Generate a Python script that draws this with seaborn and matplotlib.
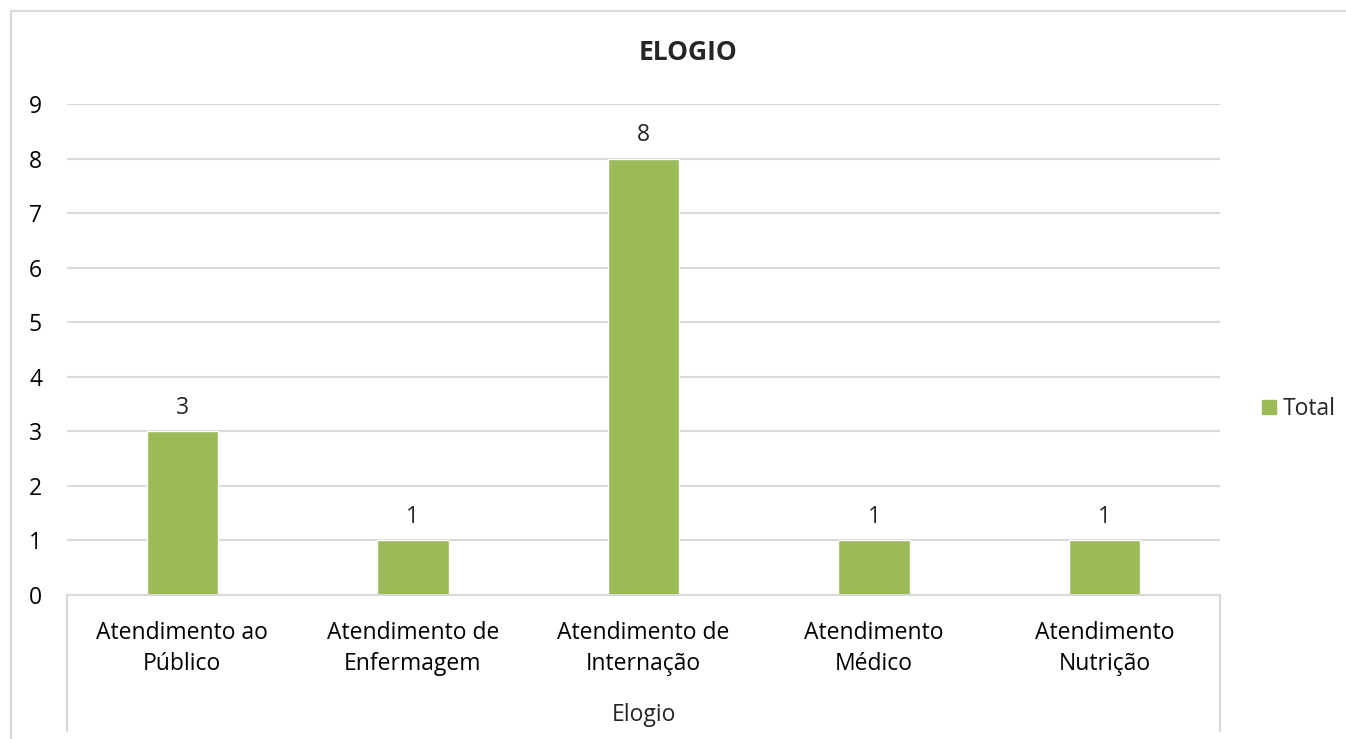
import matplotlib
matplotlib.use("Agg")
import matplotlib.pyplot as plt
import matplotlib.patches as mpatches
import seaborn as sns

# dados do gráfico
categorias = [
    "Atendimento ao\nPúblico",
    "Atendimento de\nEnfermagem",
    "Atendimento de\nInternação",
    "Atendimento\nMédico",
    "Atendimento\nNutrição",
]
valores = [3, 1, 8, 1, 1]
titulo = "ELOGIO"
grupo = "Elogio"
serie = "Total"

verde = "#9BBB59"
cinza = "#D9D9D9"
fs = 16.5

sns.set_theme(style="white")
plt.rcParams['font.family'] = ['Open Sans', 'DejaVu Sans']

fig = plt.figure(figsize=(13.46, 7.39), dpi=100)
ax = fig.add_axes([67 / 1346, 1 - 595 / 739, (1220 - 67) / 1346, (595 - 104) / 739])

sns.barplot(x=categorias, y=valores, color=verde, width=0.31, ax=ax, saturation=1)

ax.set_ylim(0, 9)
ax.set_xlim(-0.5, len(categorias) - 0.5)
ax.set_yticks(range(0, 10))
ax.yaxis.grid(True, color=cinza, linewidth=1.5)
ax.set_axisbelow(True)
for s in ["left", "right", "top"]:
    ax.spines[s].set_visible(False)
ax.spines["bottom"].set_color(cinza)
ax.spines["bottom"].set_linewidth(1.5)

ax.tick_params(axis="both", length=0, labelsize=fs, colors="#000000")
ax.tick_params(axis="y", pad=18)
ax.tick_params(axis="x", pad=19)
for lbl in ax.get_xticklabels():
    lbl.set_linespacing(1.36)
ax.set_xlabel("")
ax.set_ylabel("")

for c in ax.containers:
    ax.bar_label(c, labels=[str(v) for v in valores], padding=8, fontsize=fs)

# caixa do eixo de categorias
for xa in [0, 1]:
    ax.plot([xa, xa], [0, -0.277], transform=ax.transAxes, color=cinza,
            linewidth=1.5, clip_on=False)
ax.text(0.5, -0.245, grupo, transform=ax.transAxes, ha="center", va="center",
        fontsize=fs)

fig.text(688 / 1346, 1 - 52 / 739, titulo, ha="center", va="center",
         fontsize=19, fontweight="bold")

handle = mpatches.Patch(color=verde, label=serie)
fig.legend(handles=[handle], loc="center left",
           bbox_to_anchor=(1262 / 1346, 1 - 409 / 739), frameon=False,
           fontsize=fs, handlelength=0.6, handleheight=0.6,
           handletextpad=0.3, borderaxespad=0, borderpad=0)

# borda do gráfico (topo e lado esquerdo)
fig.add_artist(plt.Line2D([11 / 1346, 1], [1 - 11 / 739, 1 - 11 / 739],
                          transform=fig.transFigure, color=cinza, linewidth=1.5))
fig.add_artist(plt.Line2D([11 / 1346, 11 / 1346], [0, 1 - 11 / 739],
                          transform=fig.transFigure, color=cinza, linewidth=1.5))

fig.savefig("out.png", dpi=100)
